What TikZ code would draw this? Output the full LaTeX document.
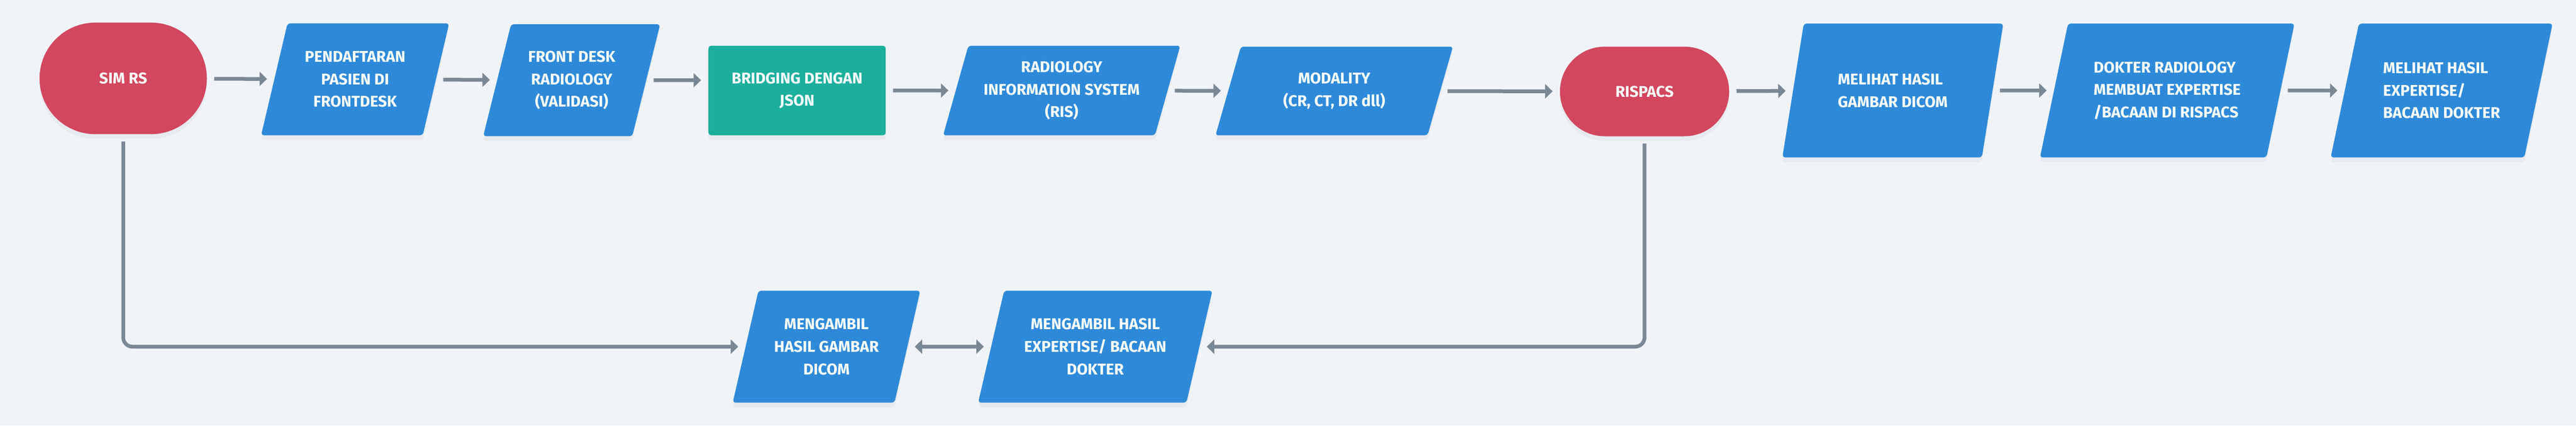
\documentclass[tikz,border=0pt]{standalone}
\usepackage{fontspec}
\setmainfont{Fira Sans}
\usepackage{tikz}
\usetikzlibrary{arrows.meta}
\usetikzlibrary{shapes.geometric}
\usetikzlibrary{shapes.misc}
\usetikzlibrary{shadows}
\definecolor{latar}{HTML}{F0F4F8}
\definecolor{merah}{HTML}{D2475D}
\definecolor{biru}{HTML}{2E8AD9}
\definecolor{hijau}{HTML}{1CAF9E}
\definecolor{abu}{HTML}{7A8896}
\tikzset{tx/.style={font=\fontsize{9.5}{13.7}\selectfont\bfseries, text=white}}
\tikzset{bayang/.style={drop shadow={opacity=0.08, shadow xshift=0cm, shadow yshift=-0.1cm}}}
\tikzset{pg/.style={tx, bayang, trapezium, trapezium left angle=72, trapezium right angle=108, trapezium stretches=true, fill=biru, rounded corners=0.06cm}}
\tikzset{ov/.style={tx, bayang, rounded rectangle, fill=merah}}
\tikzset{kt/.style={tx, bayang, rectangle, fill=hijau, rounded corners=0.06cm}}
\tikzset{ar/.style={draw=abu, line width=0.08cm, -{Triangle[length=0.16cm,width=0.3cm]}, shorten <=0.15cm, shorten >=0.15cm}}

\begin{document}
\begin{tikzpicture}
          \fill[latar] (0,0) rectangle (55.2,-9.12);
          \useasboundingbox (0,0) rectangle (55.2,-9.12);
          % baris atas
          \node [ov, minimum width=3.82cm, minimum height=2.39cm] (SIM) at (2.64,-1.68) {SIM RS};
          \node [pg, minimum width=4.06cm, minimum height=2.4cm, align=center] (DAF) at (7.61,-1.70) {PENDAFTARAN\\PASIEN DI\\FRONTDESK};
          \node [pg, minimum width=3.81cm, minimum height=2.4cm, align=center] (FD) at (12.25,-1.72) {FRONT DESK\\RADIOLOGY\\(VALIDASI)};
          \node [kt, minimum width=3.8cm, minimum height=1.92cm, align=center] (BR) at (17.08,-1.94) {BRIDGING DENGAN\\JSON};
          \node [pg, minimum width=5.09cm, minimum height=1.92cm, align=center] (RIS) at (22.75,-1.94) {RADIOLOGY\\INFORMATION SYSTEM\\(RIS)};
          \node [pg, minimum width=5.1cm, minimum height=1.9cm, align=center] (MOD) at (28.59,-1.95) {MODALITY\\(CR, CT, DR dll)};
          \node [ov, minimum width=3.86cm, minimum height=1.92cm] (PACS) at (35.24,-1.96) {RISPACS};
          \node [pg, minimum width=4.76cm, minimum height=2.87cm, align=left] (MHD) at (40.56,-1.94) {MELIHAT HASIL\\GAMBAR DICOM};
          \node [pg, minimum width=5.46cm, minimum height=2.87cm, align=left] (DOK) at (46.44,-1.94) {DOKTER RADIOLOGY\\MEMBUAT EXPERTISE\\/BACAAN DI RISPACS};
          \node [pg, minimum width=4.76cm, minimum height=2.87cm, align=left] (MHE) at (52.32,-1.94) {MELIHAT HASIL\\EXPERTISE/\\BACAAN DOKTER};
          % baris bawah
          \node [pg, minimum width=4.02cm, minimum height=2.4cm, align=center] (AMD) at (17.71,-7.43) {MENGAMBIL\\HASIL GAMBAR\\DICOM};
          \node [pg, minimum width=5.02cm, minimum height=2.4cm, align=center] (AME) at (23.47,-7.43) {MENGAMBIL HASIL\\EXPERTISE/ BACAAN\\DOKTER};
          % panah
          \draw [ar] (SIM) -- (DAF);
          \draw [ar] (DAF) -- (FD);
          \draw [ar] (FD) -- (FD -| BR.west);
          \draw [ar] (BR) -- (RIS);
          \draw [ar] (RIS) -- (MOD);
          \draw [ar] (MOD) -- (PACS);
          \draw [ar] (PACS) -- (MHD);
          \draw [ar] (MHD) -- (DOK);
          \draw [ar] (DOK) -- (MHE);
          \draw [ar, rounded corners=0.2cm] (SIM.south) |- (AMD);
          \draw [ar, rounded corners=0.2cm] (PACS.south) |- (AME);
          \draw [ar, {Triangle[length=0.16cm,width=0.3cm]}-{Triangle[length=0.16cm,width=0.3cm]}] (AMD) -- (AME);
        \end{tikzpicture}
\end{document}
